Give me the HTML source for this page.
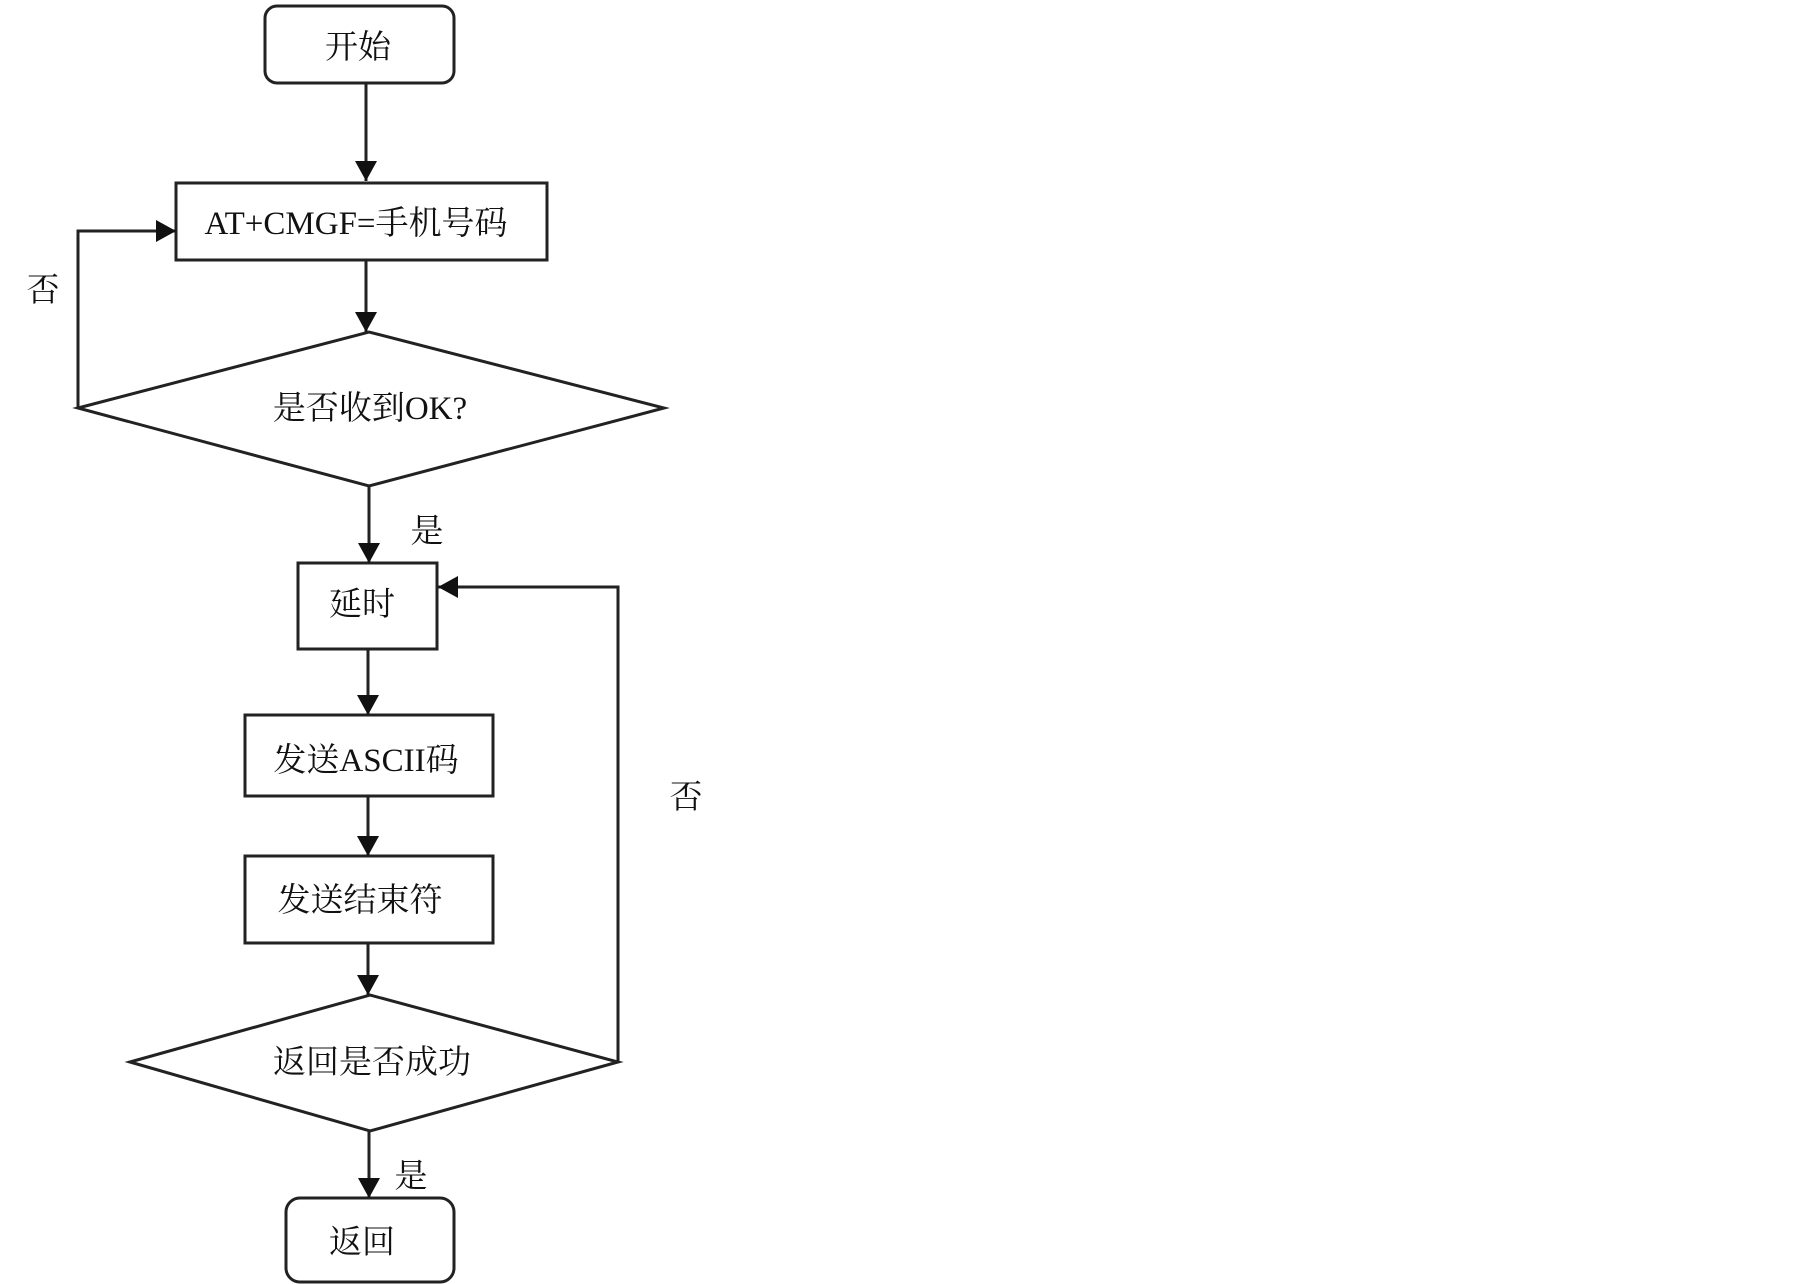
<!DOCTYPE html>
<html><head><meta charset="utf-8"><style>
html,body{margin:0;padding:0;background:#fff;}
svg{display:block;}
text{font-family:"Liberation Serif","Noto Serif CJK SC",serif;font-size:33px;fill:#111;}
</style></head><body>
<svg width="1805" height="1284" viewBox="0 0 1805 1284" xmlns="http://www.w3.org/2000/svg">
<defs>
<marker id="b" markerWidth="20" markerHeight="22" refX="20" refY="11" orient="auto" markerUnits="userSpaceOnUse"><path d="M0,0 L20,11 L0,22 z" fill="#111"/></marker></defs>
<g stroke="#222" stroke-width="3" fill="none">
<rect x="265" y="6" width="189" height="77" rx="12"/>
<rect x="176" y="183" width="371" height="77"/>
<polygon points="78,408 369,332 664,408 369,486"/>
<rect x="298" y="563" width="139" height="86"/>
<rect x="245" y="715" width="248" height="81"/>
<rect x="245" y="856" width="248" height="87"/>
<polygon points="130,1062 370,995 618,1062 370,1131"/>
<rect x="286" y="1198" width="168" height="84" rx="14"/>
<line x1="366" y1="83" x2="366" y2="181" marker-end="url(#b)"/>
<line x1="366" y1="260" x2="366" y2="332" marker-end="url(#b)"/>
<polyline points="78,408 78,231 176,231" marker-end="url(#b)"/>
<line x1="369" y1="486" x2="369" y2="563" marker-end="url(#b)"/>
<line x1="368" y1="649" x2="368" y2="715" marker-end="url(#b)"/>
<line x1="368" y1="796" x2="368" y2="856" marker-end="url(#b)"/>
<line x1="368" y1="943" x2="368" y2="995" marker-end="url(#b)"/>
<polyline points="618,1062 618,587 438,587" marker-end="url(#b)"/>
<line x1="369" y1="1131" x2="369" y2="1198" marker-end="url(#b)"/>
</g>
<g text-anchor="middle">
<text x="358" y="58">开始</text>
<text x="356" y="234">AT+CMGF=手机号码</text>
<text x="370" y="419">是否收到OK?</text>
<text x="362" y="615">延时</text>
<text x="366" y="771">发送ASCII码</text>
<text x="360" y="911">发送结束符</text>
<text x="372" y="1073">返回是否成功</text>
<text x="362" y="1253">返回</text>
<text x="43" y="301">否</text>
<text x="427" y="542">是</text>
<text x="686" y="808">否</text>
<text x="411" y="1187">是</text>
</g>
</svg>
</body></html>
